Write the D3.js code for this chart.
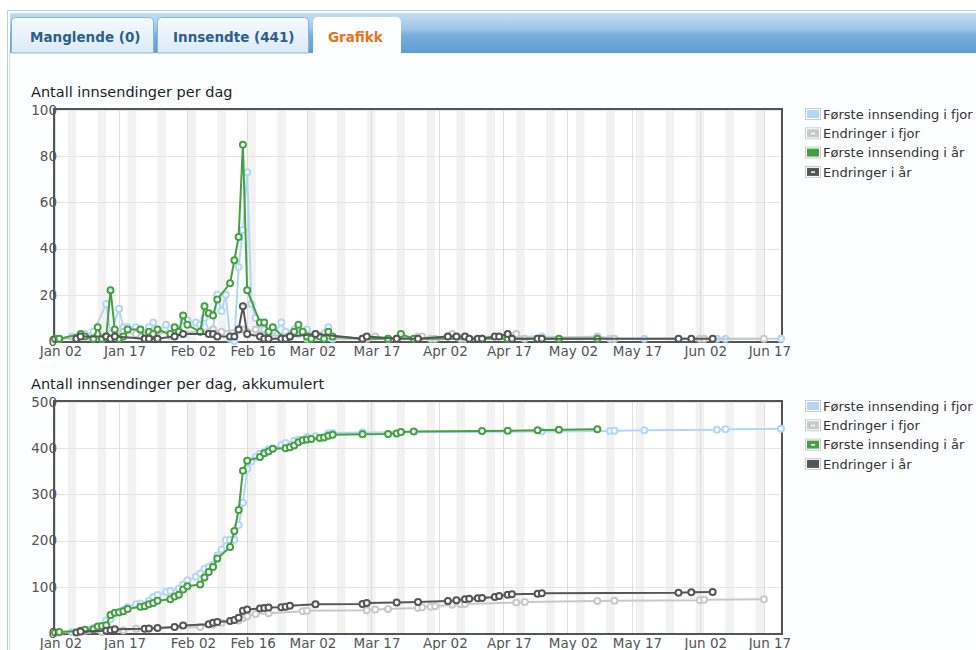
<!DOCTYPE html>
<html>
<head>
<meta charset="utf-8">
<script src="https://cdn.jsdelivr.net/npm/d3@7"></script>
<style>
  body { margin: 0; background: #fff; font-family: "DejaVu Sans", sans-serif; }
</style>
</head>
<body>
<svg id="main" width="976" height="650"></svg>
<script>
// tab labels and axis labels
const tabLabels = ['Manglende (0)', 'Innsendte (441)', 'Grafikk'];
const tickDays = ['01-02', '01-17', '02-02', '02-16', '03-02', '03-17', '04-02', '04-17', '05-02', '05-17', '06-02', '06-17'];
const tickLabels = ['Jan 02', 'Jan 17', 'Feb 02', 'Feb 16', 'Mar 02', 'Mar 17', 'Apr 02', 'Apr 17', 'May 02', 'May 17', 'Jun 02', 'Jun 17'];
const yTicksDaily = [0, 20, 40, 60, 80, 100];
const yTicksAccum = [0, 100, 200, 300, 400, 500];
const seriesNames = ['Første innsending i fjor', 'Endringer i fjor', 'Første innsending i år', 'Endringer i år'];

// daily counts [day, count]
const forsteFjor = [
  ['01-06', 2], ['01-09', 3], ['01-10', 2], ['01-11', 4], ['01-14', 16], ['01-15', 3], ['01-17', 14],
  ['01-18', 6], ['01-19', 6], ['01-21', 6], ['01-22', 2], ['01-24', 6], ['01-25', 8], ['01-26', 4],
  ['01-28', 7], ['01-29', 2], ['01-31', 5], ['02-01', 9], ['02-02', 9], ['02-04', 8], ['02-05', 7],
  ['02-06', 10], ['02-07', 4], ['02-08', 5], ['02-09', 20], ['02-10', 13], ['02-11', 20], ['02-12', 1],
  ['02-13', 0], ['02-14', 32], ['02-15', 48], ['02-16', 73], ['02-17', 16], ['02-18', 10], ['02-19', 7],
  ['02-20', 5], ['02-21', 4], ['02-22', 2], ['02-24', 8], ['02-25', 4], ['02-27', 5], ['02-28', 3],
  ['03-02', 5], ['03-04', 2], ['03-07', 6], ['03-08', 1], ['03-15', 1], ['04-26', 2], ['05-12', 1],
  ['05-13', 1], ['05-20', 1], ['06-06', 1], ['06-08', 1], ['06-21', 1]
];
const endringerFjor = [
  ['01-03', 1], ['01-13', 1], ['01-18', 4], ['01-21', 3], ['02-05', 4], ['02-08', 5], ['02-10', 4],
  ['02-14', 5], ['02-15', 5], ['02-16', 4], ['02-18', 5], ['02-21', 2], ['03-01', 4], ['03-02', 1],
  ['03-16', 1], ['03-18', 2], ['03-21', 1], ['03-28', 2], ['03-29', 2], ['03-31', 1], ['04-01', 1],
  ['04-05', 3], ['04-07', 1], ['04-08', 1], ['04-20', 3], ['04-22', 1], ['05-09', 2], ['05-13', 1],
  ['06-02', 1], ['06-03', 1], ['06-17', 1]
];
const forsteIAar = [
  ['01-02', 1], ['01-03', 1], ['01-08', 3], ['01-09', 2], ['01-11', 1], ['01-12', 6], ['01-13', 1],
  ['01-14', 2], ['01-15', 22], ['01-16', 5], ['01-17', 1], ['01-18', 2], ['01-19', 5], ['01-22', 5],
  ['01-23', 1], ['01-24', 4], ['01-25', 3], ['01-26', 5], ['01-29', 3], ['01-30', 6], ['01-31', 4],
  ['02-01', 11], ['02-02', 7], ['02-05', 4], ['02-06', 15], ['02-07', 12], ['02-08', 11], ['02-09', 18],
  ['02-12', 25], ['02-13', 35], ['02-14', 45], ['02-15', 85], ['02-16', 22], ['02-19', 8], ['02-20', 8],
  ['02-21', 4], ['02-22', 6], ['02-25', 1], ['02-26', 2], ['02-27', 4], ['02-28', 7], ['03-01', 4],
  ['03-02', 2], ['03-03', 1], ['03-05', 2], ['03-06', 1], ['03-07', 4], ['03-08', 2], ['03-15', 1],
  ['03-21', 1], ['03-23', 1], ['03-24', 3], ['03-27', 1], ['04-12', 1], ['04-18', 1], ['04-25', 1],
  ['04-30', 1], ['05-09', 1]
];
const endringerIAar = [
  ['01-07', 1], ['01-08', 2], ['01-14', 2], ['01-15', 1], ['01-16', 2], ['01-23', 1], ['01-24', 1],
  ['01-26', 1], ['01-30', 2], ['02-01', 3], ['02-07', 3], ['02-08', 3], ['02-09', 2], ['02-12', 2],
  ['02-13', 2], ['02-14', 5], ['02-15', 15], ['02-16', 3], ['02-19', 2], ['02-20', 1], ['02-21', 1],
  ['02-24', 1], ['02-25', 1], ['02-26', 2], ['03-04', 3], ['03-15', 1], ['03-16', 2], ['03-23', 1],
  ['03-28', 1], ['04-04', 2], ['04-06', 2], ['04-08', 2], ['04-09', 1], ['04-11', 1], ['04-12', 1],
  ['04-15', 2], ['04-16', 2], ['04-18', 3], ['04-19', 1], ['04-25', 1], ['04-26', 1], ['05-28', 1],
  ['05-31', 1], ['06-05', 1]
];

const colors = ['#b3d6f4', '#c8c8c8', '#43a143', '#555555'];
const parse = d3.timeParse('%Y-%m-%d');
const day = s => parse(`2019-${s}`);

const left = 55, right = 781, plotH = 231;
const x = d3.scaleTime().domain([day('01-02'), day('06-21')]).range([left, right]);
const svg = d3.select('#main');
const defs = svg.append('defs');

// header gradient
const hdr = defs.append('linearGradient').attr('id', 'hdr').attr('x1', 0).attr('y1', 0).attr('x2', 0).attr('y2', 1);
[['0%', '#c6def2'], ['40%', '#9cc5e8'], ['55%', '#78aedc'], ['100%', '#5e9dd2']]
  .forEach(([o, c]) => hdr.append('stop').attr('offset', o).attr('stop-color', c));
const tabGrad = defs.append('linearGradient').attr('id', 'tabg').attr('x1', 0).attr('y1', 0).attr('x2', 0).attr('y2', 1);
[['0%', '#f6fafe'], ['100%', '#dbeaf7']]
  .forEach(([o, c]) => tabGrad.append('stop').attr('offset', o).attr('stop-color', c));

// outer frame + tab bar
svg.append('rect').attr('x', 7.5).attr('y', 10.5).attr('width', 990).attr('height', 660)
  .attr('fill', '#fdfeff').attr('stroke', '#b4cfe6');
svg.append('rect').attr('x', 10).attr('y', 13).attr('width', 970).attr('height', 40).attr('fill', 'url(#hdr)');
svg.append('line').attr('x1', 9.5).attr('x2', 9.5).attr('y1', 53).attr('y2', 650).attr('stroke', '#cfe1f0');

// rounded-top tab outline
const tabPath = (x0, x1, y0, y1, r) =>
  `M${x0},${y1} L${x0},${y0 + r} Q${x0},${y0} ${x0 + r},${y0} L${x1 - r},${y0} Q${x1},${y0} ${x1},${y0 + r} L${x1},${y1}`;
const tabs = [
  { x0: 11.5, x1: 153.5, tx: 30, active: false },
  { x0: 157.5, x1: 308.5, tx: 173, active: false },
  { x0: 313.5, x1: 400.5, tx: 328, active: true }
];
tabs.forEach((t, i) => {
  svg.append('path').attr('d', tabPath(t.x0, t.x1, 17.5, t.active ? 55 : 53, 4) + (t.active ? '' : 'Z'))
    .attr('fill', t.active ? '#fdfeff' : 'url(#tabg)')
    .attr('stroke', t.active ? '#fdfeff' : '#86b4dc');
  svg.append('text').attr('x', t.tx).attr('y', 42)
    .attr('font-size', '13.5px').attr('font-weight', 'bold')
    .attr('fill', t.active ? '#e8731c' : '#2d5d8c')
    .text(tabLabels[i]);
});

const charts = [
  { title: 'Antall innsendinger per dag', top: 110, ticks: yTicksDaily, accum: false, dashed: [1, 3] },
  { title: 'Antall innsendinger per dag, akkumulert', top: 402, ticks: yTicksAccum, accum: true, dashed: [1, 2] }
];

function drawChart(cfg) {
  const bottom = cfg.top + plotH;
  const y = d3.scaleLinear().domain([0, d3.max(cfg.ticks)]).range([bottom, cfg.top]);
  const g = svg.append('g');

  g.append('text').attr('x', 31).attr('y', cfg.top - 13)
    .attr('font-size', '14.5px').attr('fill', '#1e1e1e').text(cfg.title);

  g.append('rect').attr('x', left).attr('y', cfg.top).attr('width', right - left).attr('height', plotH)
    .attr('fill', '#fff');

  // weekend bands
  const [d0, d1] = x.domain();
  const sats = d3.timeSaturday.range(d3.timeDay.offset(d0, -2), d1);
  g.append('g').selectAll('rect').data(sats).join('rect')
    .attr('x', d => Math.max(left, x(d)))
    .attr('y', cfg.top)
    .attr('width', d => Math.max(0, Math.min(right, x(d3.timeDay.offset(d, 2))) - Math.max(left, x(d))))
    .attr('height', plotH)
    .attr('fill', '#f2f2f2');

  // grid lines
  g.append('g').selectAll('line').data(cfg.ticks).join('line')
    .attr('x1', left).attr('x2', right)
    .attr('y1', d => Math.round(y(d)) + 0.5).attr('y2', d => Math.round(y(d)) + 0.5)
    .attr('stroke', '#e4e4e4');
  g.append('g').selectAll('line').data(tickDays).join('line')
    .attr('x1', d => Math.round(x(day(d))) + 0.5).attr('x2', d => Math.round(x(day(d))) + 0.5)
    .attr('y1', cfg.top).attr('y2', bottom)
    .attr('stroke', '#dcdcdc');

  // border
  g.append('rect').attr('x', left - 1).attr('y', cfg.top - 1)
    .attr('width', right - left + 2).attr('height', plotH + 2)
    .attr('fill', 'none').attr('stroke', '#545454').attr('stroke-width', 2);

  // series
  const raw = [forsteFjor, endringerFjor, forsteIAar, endringerIAar];
  const line = d3.line().x(d => x(d.date)).y(d => y(d.v));
  raw.forEach((arr, i) => {
    const acc = d3.cumsum(arr, d => d[1]);
    const pts = arr.map((d, j) => ({ date: day(d[0]), v: cfg.accum ? acc[j] : d[1] }));
    const sg = g.append('g');
    sg.append('path').datum(pts).attr('d', line)
      .attr('fill', 'none').attr('stroke', colors[i]).attr('stroke-width', 2)
      .attr('stroke-linejoin', 'round');
    sg.selectAll('circle').data(pts).join('circle')
      .attr('cx', d => x(d.date)).attr('cy', d => y(d.v)).attr('r', 3)
      .attr('fill', '#fff').attr('stroke', colors[i]).attr('stroke-width', 2);
  });

  // y tick labels
  g.append('g').selectAll('text').data(cfg.ticks).join('text')
    .attr('x', 57).attr('y', d => y(d)).attr('dy', '0.36em')
    .attr('text-anchor', 'end').attr('font-size', '13.5px').attr('fill', '#545454')
    .text(d => d);

  // x tick labels
  g.append('g').selectAll('text').data(tickDays).join('text')
    .attr('x', d => x(day(d)) + 6).attr('y', bottom + 15)
    .attr('text-anchor', 'middle').attr('font-size', '13.5px').attr('fill', '#545454')
    .text((d, i) => tickLabels[i]);

  // legend
  const lg = g.append('g').selectAll('g').data(seriesNames).join('g')
    .attr('transform', (d, i) => `translate(805,${cfg.top + 4 + i * 19.3})`);
  lg.append('rect').attr('x', 0.5).attr('y', -5.5).attr('width', 15).attr('height', 11)
    .attr('fill', '#fff').attr('stroke', '#cccccc');
  lg.append('rect').attr('x', 2).attr('y', -4).attr('width', 12).attr('height', 8)
    .attr('fill', (d, i) => colors[i]);
  lg.filter((d, i) => cfg.dashed.includes(i)).append('rect')
    .attr('x', 6).attr('y', -0.5).attr('width', 4).attr('height', 1.5).attr('fill', '#fff');
  lg.append('text').attr('x', 18).attr('y', 0).attr('dy', '0.36em')
    .attr('font-size', '13px').attr('fill', '#333').text(d => d);
}

charts.forEach(drawChart);
</script>
</body>
</html>
